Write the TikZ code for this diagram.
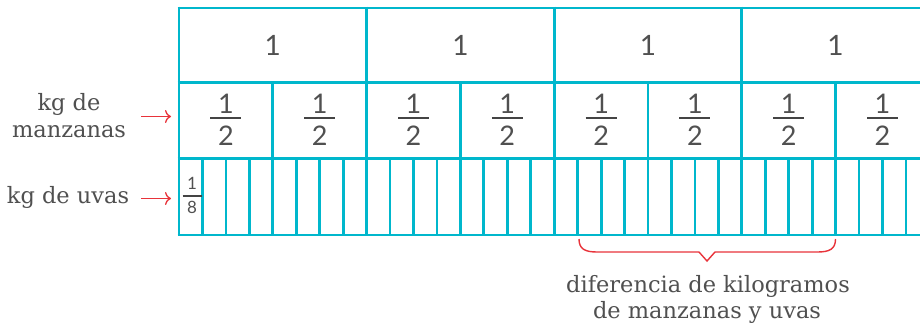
\documentclass[tikz,border=0pt]{standalone}
\usepackage{fontspec}
\setmainfont{DejaVu Serif}
\newfontfamily\numfont{Lato}
\usetikzlibrary{arrows.meta}
\definecolor{gridc}{HTML}{00B7CC}
\definecolor{txtc}{HTML}{505050}
\definecolor{redc}{HTML}{E8333A}
\tikzset{
  gridline/.style={draw=gridc, line width=2.8pt},
  lbl/.style={text=txtc, font=\fontsize{22.5}{26}\selectfont, inner sep=0pt, anchor=base},
  numb/.style={text=txtc, font=\numfont\fontsize{28}{30}\selectfont, inner sep=0pt},
  halfnum/.style={text=txtc, font=\numfont\fontsize{27}{29}\selectfont, inner sep=0pt},
  smallnum/.style={text=txtc, font=\numfont\fontsize{17}{18}\selectfont, inner sep=0pt},
  fracbar/.style={draw=txtc!85!black, line width=2pt},
  redarrow/.style={draw=redc, line width=1.3pt, -{To[length=6pt,width=13pt]}},
  bracestyle/.style={draw=redc, line width=1.4pt},
}
\begin{document}
\begin{tikzpicture}[x=1pt,y=-1pt]
\useasboundingbox (0,0) rectangle (920,330);
\begin{scope}
\clip (0,0) rectangle (920,330);
% horizontal lines
\foreach \yy in {8,82.5,158.5,235}
  \draw[gridline] (177.6,\yy) -- (930,\yy);
% unit lines
\foreach \k in {0,1,2,3}
  \draw[gridline] ({179+187.6*\k},6.6) -- ({179+187.6*\k},236.4);
% half lines
\foreach \k in {0,...,3}
  \draw[gridline] ({179+93.8+187.6*\k},82.5) -- ({179+93.8+187.6*\k},235);
% eighth lines
\foreach \k in {1,...,31}
  \draw[gridline] ({179+23.45*\k},158.5) -- ({179+23.45*\k},235);
\end{scope}
% unit labels
\foreach \k in {0,...,3}
  \node[numb] (u\k) at ({179+93.8+187.6*\k},45.5) {1};
% half fractions
\foreach \k in {0,...,7}{
  \node[halfnum] (hn\k) at ({179+46.9+93.8*\k},104) {1};
  \node[halfnum] (hd\k) at ({179+46.9+93.8*\k},135.5) {2};
  \draw[fracbar] ({179+46.9+93.8*\k-15.5},117.7) -- ({179+46.9+93.8*\k+15.5},117.7);
}
% eighth fraction
\node[smallnum] (en) at (192,183.5) {1};
\node[smallnum] (ed) at (192,207.5) {8};
\draw[fracbar, line width=1.4pt] (182.5,196) -- (201.5,196);
% labels
\node[lbl] (kgde) at (69,110) {kg de};
\node[lbl] (manz) at (69,137) {manzanas};
\node[lbl] (uvas) at (68,203) {kg de uvas};
\coordinate (a1s) at (141,116.5);
\coordinate (a1e) at (171,116.5);
\coordinate (a2s) at (141,198.5);
\coordinate (a2e) at (171,198.5);
\draw[redarrow] (a1s) -- (a1e);
\draw[redarrow] (a2s) -- (a2e);
% brace
\coordinate (bl) at (579,239);
\coordinate (br) at (835.5,239);
\coordinate (bt) at (707,261);
\draw[bracestyle] (bl) .. controls (579,249) and (585,252) .. (597,252)
  -- (699,252) -- (bt) -- (715,252) -- (817.5,252)
  .. controls (829.5,252) and (835.5,249) .. (br);
\node[lbl] (dif1) at (708,292.5) {diferencia de kilogramos};
\node[lbl] (dif2) at (707,318) {de manzanas y uvas};
\end{tikzpicture}
\end{document}
